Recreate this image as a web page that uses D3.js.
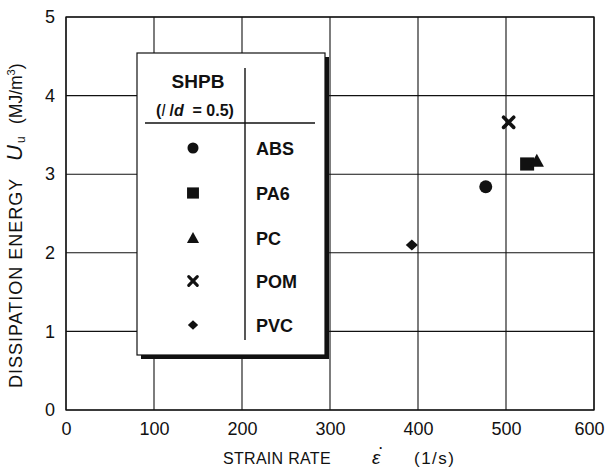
<!DOCTYPE html>
<html><head><meta charset="utf-8">
<script src="https://cdn.jsdelivr.net/npm/d3@7"></script>
<style>body{margin:0;background:#fff}svg{display:block}text{font-family:"Liberation Sans",Arial,sans-serif;fill:#111;white-space:pre}</style>
</head><body><svg id="c" width="608" height="469"></svg>
<script>
const materials = ["ABS","PA6","PC","POM","PVC"];
const strainRate = [477, 524, 535, 503, 393];
const energy = [2.84, 3.13, 3.17, 3.66, 2.10];
const symbols = ["circle","square","triangle","cross","diamond"];
const xTicks = [0,100,200,300,400,500,600];
const yTicks = [0,1,2,3,4,5];

const svg = d3.select("#c");
const m = {l:66, r:594, t:17, b:410};
const x = d3.scaleLinear().domain([0,600]).range([m.l,m.r]);
const y = d3.scaleLinear().domain([0,5]).range([m.b,m.t]);

// grid
svg.append("g").selectAll("line").data(xTicks).join("line")
  .attr("x1",d=>x(d)).attr("x2",d=>x(d)).attr("y1",m.t).attr("y2",m.b)
  .attr("stroke","#111").attr("stroke-width",1.1);
svg.append("g").selectAll("line").data(yTicks).join("line")
  .attr("y1",d=>y(d)).attr("y2",d=>y(d)).attr("x1",m.l).attr("x2",m.r)
  .attr("stroke","#111").attr("stroke-width",1.1);
svg.append("rect").attr("x",m.l).attr("y",m.t).attr("width",m.r-m.l).attr("height",m.b-m.t)
  .attr("fill","none").attr("stroke","#111").attr("stroke-width",1.3);

// tick labels via d3 axes (lines hidden)
const xa = svg.append("g").attr("transform",`translate(0,${m.b})`)
  .call(d3.axisBottom(x).tickValues(xTicks).tickFormat(d3.format("d")).tickSize(0).tickPadding(12));
xa.select(".domain").remove();
xa.attr("font-size",null).attr("font-family",null);
xa.selectAll("text").attr("font-size",18).attr("fill","#111")
  .attr("dx",d=>d===600?-5:0);
const ya = svg.append("g").attr("transform",`translate(${m.l},0)`)
  .call(d3.axisLeft(y).tickValues(yTicks).tickFormat(d3.format("d")).tickSize(0).tickPadding(11));
ya.select(".domain").remove();
ya.attr("font-size",null).attr("font-family",null);
ya.selectAll("text").attr("font-size",18).attr("fill","#111");

// x axis title
svg.append("text").attr("x",223).attr("y",464).attr("font-size",16).style("letter-spacing","0.3px").text("STRAIN RATE");
svg.append("text").attr("x",372).attr("y",464).attr("font-size",19).attr("font-family","Liberation Serif, serif").attr("font-style","italic").text("ε");
svg.append("text").attr("x",379).attr("y",449).attr("font-size",12).attr("font-weight","bold").text(".");
svg.append("text").attr("x",414).attr("y",464).attr("font-size",17).style("letter-spacing","1.5px").text("(1/s)");

// y axis title
svg.append("text").attr("transform","translate(22,388) rotate(-90)").attr("font-size",18).style("letter-spacing","1px").text("DISSIPATION ENERGY");
svg.append("text").attr("transform","translate(22,161) rotate(-90)").attr("font-size",22).attr("font-style","italic").text("U");
svg.append("text").attr("transform","translate(25,143) rotate(-90)").attr("font-size",12).text("u");
const ym = svg.append("text").attr("transform","translate(22,124) rotate(-90)").attr("font-size",17.5);
ym.append("tspan").text("(MJ/m");
ym.append("tspan").attr("font-size",11).attr("dy",-7).text("3");
ym.append("tspan").attr("dy",7).text(")");

// symbol drawer
function drawSym(g, type, cx, cy, s) {
  if (type==="circle") g.append("circle").attr("cx",cx).attr("cy",cy).attr("r",s*0.5).attr("fill","#111");
  else if (type==="square") g.append("rect").attr("x",cx-s*0.5).attr("y",cy-s*0.47).attr("width",s).attr("height",s*0.94).attr("fill","#111");
  else if (type==="triangle") g.append("path").attr("d",`M${cx},${cy-s*0.55}L${cx+s*0.55},${cy+s*0.45}L${cx-s*0.55},${cy+s*0.45}Z`).attr("fill","#111");
  else if (type==="diamond") g.append("path").attr("d",`M${cx},${cy-s*0.5}L${cx+s*0.55},${cy}L${cx},${cy+s*0.5}L${cx-s*0.55},${cy}Z`).attr("fill","#111");
  else if (type==="cross") { const h=s*0.36; g.append("path").attr("d",`M${cx-h},${cy-h}L${cx+h},${cy+h}M${cx+h},${cy-h}L${cx-h},${cy+h}`).attr("stroke","#111").attr("stroke-width",s*0.26).attr("stroke-linecap","round"); }
}
const sizes = {circle:13, square:14, triangle:13, cross:14, diamond:11};
const pts = svg.append("g");
materials.forEach((mat,i)=>drawSym(pts, symbols[i], x(strainRate[i]), y(energy[i]), sizes[symbols[i]]));

// legend
const L = {x:137, y:53, w:188, h:302};
const lg = svg.append("g");
lg.append("rect").attr("x",L.x+4).attr("y",L.y+4).attr("width",L.w).attr("height",L.h).attr("fill","#111");
lg.append("rect").attr("x",L.x).attr("y",L.y).attr("width",L.w).attr("height",L.h).attr("fill","#fff").attr("stroke","#111").attr("stroke-width",1.2);
lg.append("line").attr("x1",245).attr("x2",245).attr("y1",68).attr("y2",340).attr("stroke","#111").attr("stroke-width",1.4);
lg.append("line").attr("x1",145).attr("x2",315).attr("y1",123).attr("y2",123).attr("stroke","#111").attr("stroke-width",1.4);
lg.append("text").attr("x",198).attr("y",88).attr("text-anchor","middle").attr("font-size",19).attr("font-weight","bold").text("SHPB");
const sub = lg.append("text").attr("x",195).attr("y",116).attr("text-anchor","middle").attr("font-size",16).attr("font-weight","bold");
sub.append("tspan").text("(");
sub.append("tspan").attr("font-style","italic").attr("font-weight","normal").text("l");
sub.append("tspan").text(" /");
sub.append("tspan").attr("font-style","italic").text("d");
sub.append("tspan").text("  = 0.5)");
const rowY = [148,193,238,281,325];
materials.forEach((mat,i)=>{
  drawSym(lg, symbols[i], 193, rowY[i], sizes[symbols[i]]*0.85);
  lg.append("text").attr("x",256).attr("y",rowY[i]+6.5).attr("font-size",18).attr("font-weight","bold").text(mat);
});
</script></body></html>
